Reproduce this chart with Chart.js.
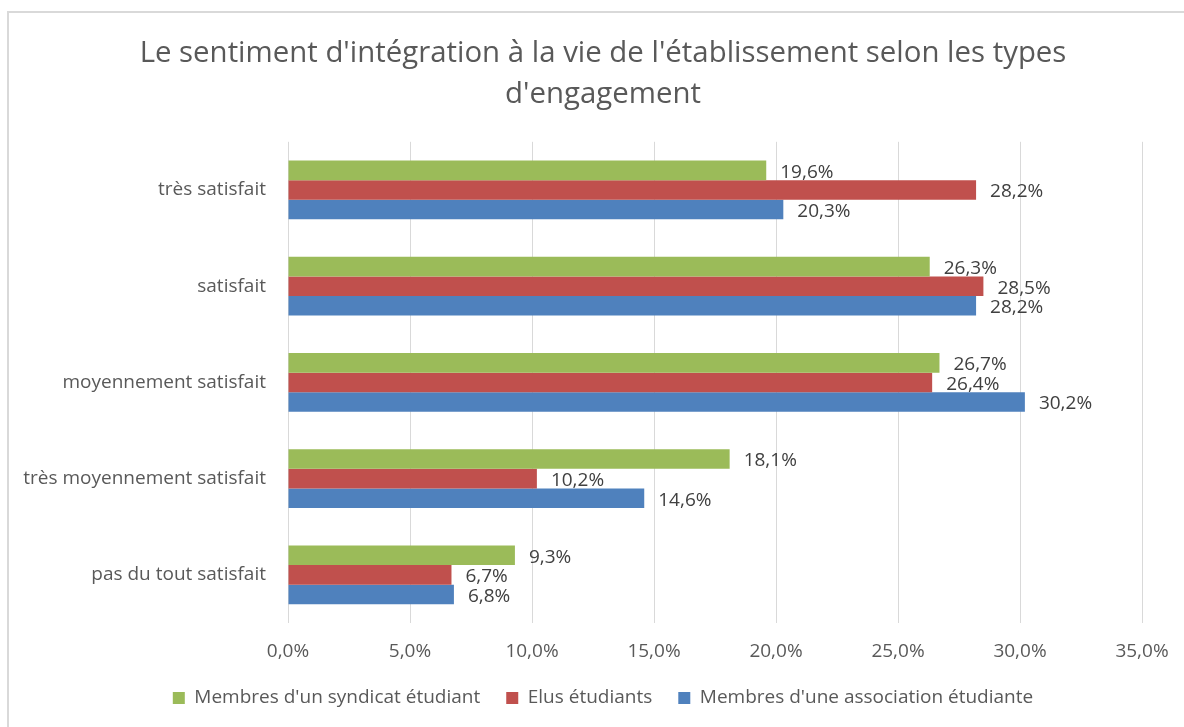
<!DOCTYPE html>
<html>
<head>
<meta charset="utf-8">
<script src="https://cdn.jsdelivr.net/npm/chart.js@4"></script>
<style>
  html, body { margin: 0; padding: 0; background: #fff; overflow: hidden; width: 1184px; height: 727px; }
  #frame { position: absolute; left: 7px; top: 11px; width: 1250px; height: 800px; border: 2px solid #d9d9d9; }
  #chart { position: absolute; left: 0; top: 0; }
</style>
</head>
<body>
<div id="frame"></div>
<canvas id="chart" width="1206" height="727"></canvas>
<script>
/* ── Data ── */
const categories = ['très satisfait', 'satisfait', 'moyennement satisfait', 'très moyennement satisfait', 'pas du tout satisfait'];
const syndicat = [19.6, 26.3, 26.7, 18.1, 9.3];
const elus = [28.2, 28.5, 26.4, 10.2, 6.7];
const association = [20.3, 28.2, 30.2, 14.6, 6.8];
const xTicks = [0, 5, 10, 15, 20, 25, 30, 35];

const fmtPct = v => Number(v).toFixed(1).replace('.', ',') + '%';

Chart.defaults.font.family = "'Open Sans', sans-serif";
Chart.defaults.color = '#595959';

// ── value labels at the end of each bar ──
const barLabels = {
  id: 'barLabels',
  afterDatasetsDraw(chart) {
    const ctx = chart.ctx;
    ctx.save();
    ctx.font = "19px 'Open Sans', sans-serif";
    ctx.fillStyle = '#404040';
    ctx.textAlign = 'left';
    ctx.textBaseline = 'middle';
    chart.data.datasets.forEach((ds, i) => {
      chart.getDatasetMeta(i).data.forEach((bar, j) => {
        ctx.fillText(fmtPct(ds.data[j]), bar.x + 14, bar.y + 2);
      });
    });
    ctx.restore();
  }
};

new Chart(document.getElementById('chart'), {
  type: 'bar',
  data: {
    labels: categories,
    datasets: [
      { label: "Membres d'un syndicat étudiant", data: syndicat, backgroundColor: '#9BBB59' },
      { label: 'Elus étudiants', data: elus, backgroundColor: '#C0504D' },
      { label: "Membres d'une association étudiante", data: association, backgroundColor: '#4F81BD' }
    ]
  },
  options: {
    indexAxis: 'y',
    responsive: false,
    animation: false,
    barPercentage: 1,
    categoryPercentage: 0.61,
    layout: { padding: { left: 0, right: 0, top: 0, bottom: 9.5 } },
    plugins: {
      title: {
        display: true,
        text: ["Le sentiment d'intégration à la vie de l'établissement selon les types", "d'engagement"],
        color: '#595959',
        font: { size: 29.4, weight: 'normal', lineHeight: 1.4 },
        padding: { top: 33, bottom: 26.5 }
      },
      legend: {
        position: 'bottom',
        labels: {
          boxWidth: 12, boxHeight: 12, padding: 26,
          color: '#595959',
          font: { size: 19 }
        }
      },
      tooltip: { enabled: false }
    },
    scales: {
      x: {
        min: 0, max: 35,
        afterBuildTicks: scale => { scale.ticks = xTicks.map(v => ({ value: v })); },
        afterFit: scale => { scale.height = 39.5; },
        grid: { color: '#d9d9d9', drawTicks: false },
        border: { display: false },
        ticks: { padding: 17, color: '#595959', font: { size: 19 }, callback: v => fmtPct(v) }
      },
      y: {
        afterFit: scale => { scale.width = 288; },
        grid: { display: false, drawTicks: false },
        border: { display: false },
        ticks: { padding: 22, color: '#595959', font: { size: 19 } }
      },
      // empty strip on the right so the plot ends where the original does
      yRight: {
        type: 'linear',
        axis: 'y',
        position: 'right',
        display: true,
        afterFit: scale => { scale.width = 64; },
        grid: { display: false, drawTicks: false },
        border: { display: false },
        ticks: { display: false }
      }
    }
  },
  plugins: [barLabels]
});
</script>
</body>
</html>
